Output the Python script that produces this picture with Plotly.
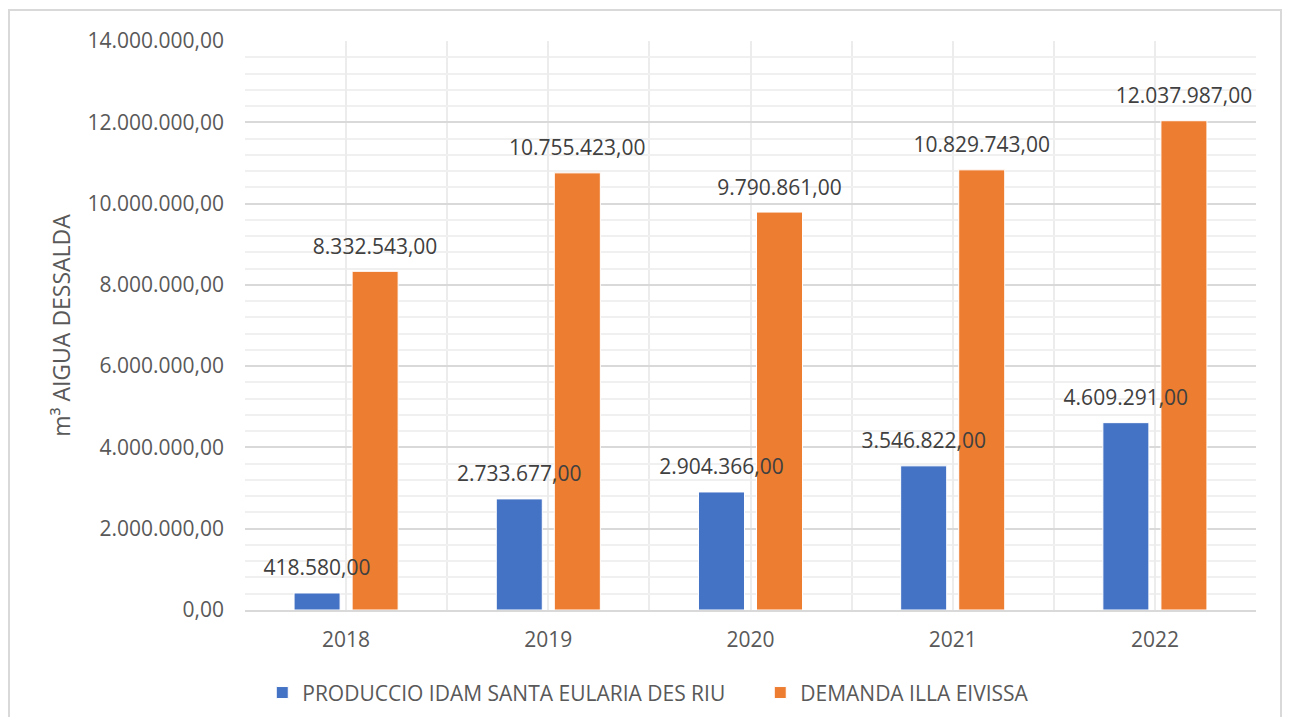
import plotly.graph_objects as go

years = [2018, 2019, 2020, 2021, 2022]
produccio = [418580, 2733677, 2904366, 3546822, 4609291]
demanda = [8332543, 10755423, 9790861, 10829743, 12037987]
name_prod = "PRODUCCIO IDAM SANTA EULARIA DES RIU"
name_dem = "DEMANDA ILLA EIVISSA"
y_title = "m³ AIGUA DESSALDA"

# page body has an 8px margin
W, H = 1275, 709
ML, MR, MT, MB = 237, 27, 33, 107
FONT = "Open Sans"
GREY = "#595959"
LABEL = "#404040"
GAP = 0.426

fig = go.Figure()
series = [(produccio, name_prod, "#4472C4", "p"), (demanda, name_dem, "#ED7D31", "d")]
for vals, name, col, grp in series:
    fig.add_trace(go.Bar(
        x=years, y=vals, name=name, offsetgroup=grp,
        marker=dict(color=col, line=dict(color="white", width=1)),
        hoverinfo="x+y",
    ))
for vals, name, col, grp in series:
    fig.add_trace(go.Scatter(
        x=years, y=vals, mode="markers+text", offsetgroup=grp, showlegend=False,
        marker=dict(size=18, color="rgba(0,0,0,0)"),
        texttemplate="%{y:,.2f}", textposition="top center",
        textfont=dict(family=FONT, size=21, color=LABEL), cliponaxis=False,
        hoverinfo="skip",
    ))

pw = W - ML - MR
ph = H - MT - MB
fig.add_shape(type="rect", xref="paper", yref="paper",
              x0=(1 - ML) / pw, x1=(W - 2 - ML) / pw,
              y0=(MB - 760) / ph, y1=(H - MB - 2) / ph,
              line=dict(color="#d9d9d9", width=2), fillcolor="rgba(0,0,0,0)", layer="below")

fig.update_layout(
    width=W, height=H,
    margin=dict(l=ML, r=MR, t=MT, b=MB, autoexpand=False),
    paper_bgcolor="white", plot_bgcolor="white",
    separators=",.",
    barmode="group", bargap=GAP, bargroupgap=0.207,
    scattermode="group", scattergap=GAP,
    font=dict(family=FONT, size=21, color=GREY),
    showlegend=True,
    legend=dict(orientation="h", xref="container", yref="container",
                x=0.59, xanchor="center", y=0.034, yanchor="middle",
                font=dict(family=FONT, size=21, color=GREY),
                itemwidth=30, traceorder="normal", entrywidth=453),
    xaxis=dict(
        range=[2017.5, 2022.5], tickmode="array", tickvals=years,
        ticktext=[str(v) for v in years],
        showgrid=True, gridcolor="#ececec", gridwidth=2,
        minor=dict(dtick=0.5, tick0=2017.5, showgrid=True, gridcolor="#ececec", gridwidth=2),
        showline=True, linecolor="#d9d9d9", linewidth=2,
        ticks="", tickfont=dict(family=FONT, size=21, color=GREY),
        ticklabelstandoff=10,
    ),
    yaxis=dict(
        range=[0, 14000000], dtick=2000000, tickformat=",.2f",
        showgrid=True, gridcolor="#d9d9d9", gridwidth=2,
        minor=dict(dtick=400000, showgrid=True, gridcolor="#f0f0f0", gridwidth=2),
        zeroline=False, showline=False, ticks="",
        tickfont=dict(family=FONT, size=21, color=GREY),
        ticklabelstandoff=20,
        title=dict(text=y_title, font=dict(family=FONT, size=23, color=GREY), standoff=10),
    ),
)

fig.write_html("out.html")
